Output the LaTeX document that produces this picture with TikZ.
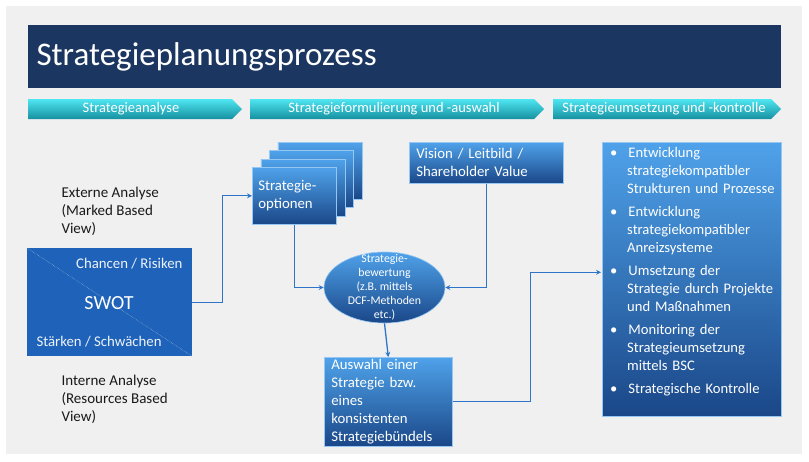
\documentclass[tikz,border=0pt]{standalone}
\usepackage{fontspec}
\setmainfont{Carlito}
\usetikzlibrary{shapes.geometric,arrows.meta}

\definecolor{navy}{HTML}{1B3761}
\definecolor{bggray}{HTML}{F0F0F0}
\definecolor{cyantop}{HTML}{4FE6F2}
\definecolor{cyanmid}{HTML}{2CCFDF}
\definecolor{cyanbot}{HTML}{1590A0}
\definecolor{boxtop}{HTML}{4FA2EA}
\definecolor{boxbot}{HTML}{1A4788}
\definecolor{swotblue}{HTML}{1F62B9}
\definecolor{linkblue}{HTML}{2E75C9}

\tikzset{
  bluebox/.style={draw=boxtop!60!white, line width=0.6pt, top color=boxtop, bottom color=boxbot,
    text=white, anchor=north west, inner sep=0pt, font=\fontsize{14.8}{18}\selectfont},
  link/.style={draw=linkblue, line width=1.3pt, -{Stealth[length=5pt,width=5pt]}},
  phase/.style={top color=cyantop, middle color=cyanmid, bottom color=cyanbot},
  phasetext/.style={text=white, font=\fontsize{14.5}{16}\selectfont},
  plain/.style={text=black!90, align=left, anchor=west, font=\fontsize{15}{18}\selectfont}
}

\begin{document}
\begin{tikzpicture}[x=1pt, y=-1pt]
  \useasboundingbox (0,0) rectangle (809,461);
  \fill[white] (0,0) rectangle (809,461);
  \fill[bggray] (6,6) rectangle (802,454);

  % Titel
  \fill[navy] (28,25) rectangle (781,88);
  \node[anchor=west, text=white, font=\fontsize{33}{38}\selectfont] (titel) at (33,57) {Strategieplanungsprozess};

  % Phasen
  \shade[phase] (28,99) -- (232,99) -- (242,109) -- (232,119) -- (28,119) -- cycle;
  \shade[phase] (250,99) -- (534,99) -- (544,109) -- (534,119) -- (250,119) -- cycle;
  \shade[phase] (553,99) -- (771,99) -- (781,109) -- (771,119) -- (553,119) -- cycle;
  \node[phasetext] (phanalyse) at (131,109) {Strategieanalyse};
  \node[phasetext] (phformulierung) at (394,109) {Strategieformulierung und -auswahl};
  \node[phasetext] (phumsetzung) at (664,109) {Strategieumsetzung und -kontrolle};

  % Strategieanalyse
  \node[plain] (extern) at (58,211) {Externe Analyse\\(Marked Based\\View)};
  \node[fill=swotblue, minimum width=165, minimum height=108, anchor=north west, inner sep=0pt] (swot) at (27,248) {};
  \draw[white!55!swotblue, densely dotted, line width=0.5pt] (swot.north west) -- (swot.south east);
  \node[anchor=east, text=white!92!swotblue, font=\fontsize{14.8}{16}\selectfont] (chancen) at (186,264) {Chancen / Risiken};
  \node[text=white, font=\fontsize{20}{24}\selectfont] (swottext) at (109,303) {SWOT};
  \node[anchor=west, text=white!92!swotblue, font=\fontsize{14.8}{16}\selectfont] (staerken) at (33,342) {Stärken / Schwächen};
  \node[plain] (intern) at (58,399) {Interne Analyse\\(Resources Based\\View)};

  % Strategieformulierung
  \foreach \k in {3,2,1}
    \node[bluebox, minimum width=84, minimum height=57] (opt\k) at (252+8.5*\k, 167-8.3*\k) {};
  \node[bluebox, minimum width=84, minimum height=57, text width=72, inner xsep=6pt, align=left] (optionen) at (252,167) {Strategie-\\optionen};
  \node[bluebox, minimum width=154, minimum height=41, text width=140, inner xsep=7pt, align=left] (vision) at (409,142) {Vision / Leitbild /\\Shareholder Value};
  \node[ellipse, top color=boxtop, bottom color=boxbot, draw=boxtop!60!white, line width=0.6pt,
    minimum width=121, minimum height=71, inner sep=0pt] (bewertung) at (384.5,287.5) {};
  \node[text=white, align=center, font=\fontsize{11.8}{14}\selectfont] (bewertungtext) at (bewertung.center)
    {Strategie-\\bewertung\\(z.B. mittels\\DCF-Methoden\\etc.)};
  \node[bluebox, minimum width=121, minimum height=89, text width=114, inner xsep=7pt, align=left] (auswahl) at (324,357)
    {Auswahl einer\\Strategie bzw.\\eines\\konsistenten\\Strategiebündels};

  % Strategieumsetzung
  \node[bluebox, minimum width=179, minimum height=274] (umsetzung) at (602,142) {};
  \node[anchor=north west, text=white, inner sep=0pt, text width=172, font=\fontsize{14.6}{18}\selectfont] (massnahmen) at (608,139)
  {\begin{list}{\textbullet}{\leftmargin=19pt \labelwidth=6pt \labelsep=11pt \itemsep=5pt \topsep=0pt \parsep=0pt \partopsep=0pt}
    \item Entwicklung\\strategiekompatibler\\Strukturen und Prozesse
    \item Entwicklung\\strategiekompatibler\\Anreizsysteme
    \item Umsetzung der\\Strategie durch Projekte\\und Maßnahmen
    \item Monitoring der\\Strategieumsetzung\\mittels BSC
    \item Strategische Kontrolle
  \end{list}};

  % Verbindungen
  \draw[link] (swot.east) -- ++(30,0) |- (optionen.west);
  \draw[link] (optionen.south) |- (bewertung.west);
  \draw[link] (vision.south) |- (bewertung.east);
  \draw[link] (bewertung.south) -- (auswahl.north);
  \draw[link] (auswahl.east) -- ++(78,0) |- ([yshift=7pt, xshift=-1pt]umsetzung.west);
\end{tikzpicture}
\end{document}
